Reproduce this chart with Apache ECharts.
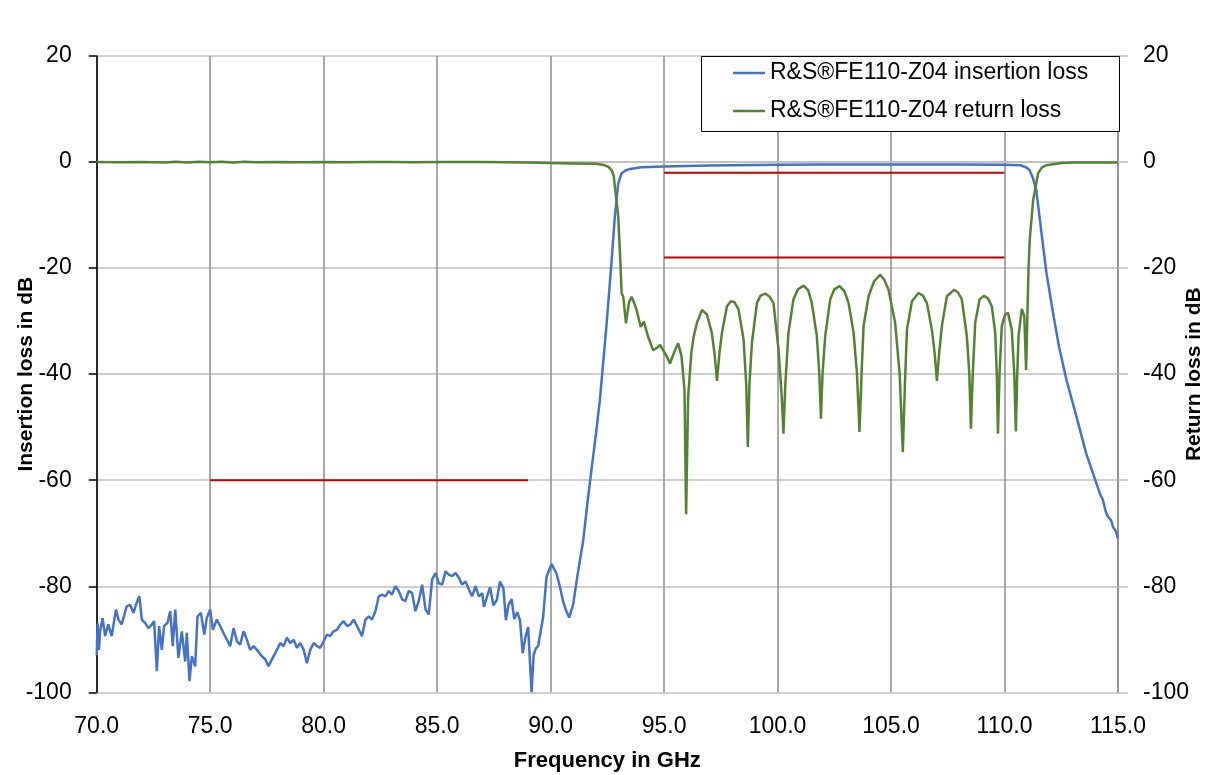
<!DOCTYPE html>
<html>
<head>
<meta charset="utf-8">
<title>R&amp;S FE110-Z04 insertion and return loss</title>
<script src="https://cdn.jsdelivr.net/npm/echarts@6/dist/echarts.min.js"></script>
<style>
  html, body { margin: 0; padding: 0; background: #ffffff; }
  #chart { width: 1209px; height: 775px; }
</style>
</head>
<body>
<div id="chart"></div>
<script>
// Frequency axis ticks (GHz) and level axis ticks (dB)
const freqTicks = [70, 75, 80, 85, 90, 95, 100, 105, 110, 115];
const levelTicks = [-100, -80, -60, -40, -20, 0, 20];

// Series names
const insertionName = 'R&S®FE110-Z04 insertion loss';
const returnName = 'R&S®FE110-Z04 return loss';

// Measured insertion loss: [frequency GHz, dB]
const insertionLoss = [
  [70.00,-93.0],[70.04,-87.0],[70.10,-92.0],[70.15,-88.5],[70.26,-86.0],[70.37,-89.4],[70.51,-87.2],[70.66,-89.4],
  [70.85,-84.4],[70.96,-86.3],[71.10,-87.2],[71.32,-83.8],[71.47,-83.5],[71.62,-85.0],[71.76,-83.1],[71.88,-81.9],
  [71.99,-86.3],[72.13,-86.9],[72.28,-87.9],[72.43,-87.2],[72.53,-86.6],[72.65,-96.0],[72.75,-87.5],[72.87,-92.0],
  [72.97,-87.5],[73.12,-86.9],[73.24,-84.7],[73.35,-91.3],[73.46,-84.4],[73.60,-93.5],[73.75,-88.5],[73.90,-94.2],
  [73.97,-88.8],[74.09,-97.9],[74.19,-93.2],[74.34,-95.1],[74.44,-85.7],[74.59,-85.0],[74.74,-89.1],[74.85,-86.0],
  [75.00,-84.4],[75.12,-88.2],[75.29,-86.3],[75.44,-87.5],[75.62,-89.1],[75.74,-90.1],[75.88,-91.3],[76.03,-87.9],
  [76.18,-90.4],[76.32,-91.0],[76.47,-88.5],[76.62,-90.1],[76.76,-92.0],[76.91,-91.3],[77.06,-92.0],[77.28,-93.2],
  [77.43,-93.8],[77.57,-95.1],[77.72,-93.8],[77.94,-92.0],[78.09,-90.7],[78.24,-91.3],[78.38,-89.7],[78.53,-90.7],
  [78.68,-90.1],[78.82,-91.6],[78.97,-90.7],[79.12,-92.0],[79.26,-94.5],[79.41,-92.0],[79.56,-90.7],[79.71,-91.3],
  [79.85,-91.6],[80.00,-90.4],[80.15,-89.1],[80.29,-89.4],[80.44,-88.5],[80.59,-88.2],[80.74,-87.2],[80.88,-86.6],
  [81.03,-87.5],[81.18,-87.2],[81.32,-86.3],[81.47,-87.5],[81.69,-89.4],[81.84,-86.3],[81.99,-85.7],[82.13,-86.3],
  [82.28,-84.7],[82.43,-81.9],[82.57,-81.6],[82.72,-81.9],[82.87,-80.9],[83.01,-81.6],[83.16,-80.0],[83.31,-80.9],
  [83.46,-82.5],[83.60,-82.8],[83.75,-80.9],[83.90,-81.3],[84.04,-84.7],[84.19,-82.8],[84.34,-79.7],[84.49,-84.4],
  [84.63,-85.3],[84.78,-78.7],[84.93,-77.5],[85.07,-79.4],[85.22,-79.7],[85.37,-77.2],[85.51,-77.8],[85.66,-78.1],
  [85.81,-77.5],[85.96,-78.4],[86.10,-79.7],[86.25,-79.1],[86.40,-80.6],[86.54,-81.9],[86.69,-80.0],[86.84,-81.9],
  [86.99,-81.3],[87.06,-83.9],[87.19,-82.1],[87.33,-80.2],[87.48,-83.6],[87.63,-82.6],[87.77,-79.1],[87.92,-80.4],
  [88.03,-86.4],[88.14,-83.6],[88.28,-82.4],[88.40,-86.2],[88.53,-84.9],[88.65,-86.4],[88.77,-92.6],[88.90,-89.4],
  [89.01,-87.7],[89.16,-100.0],[89.25,-93.0],[89.35,-91.7],[89.45,-91.3],[89.67,-85.8],[89.82,-78.2],[90.04,-75.8],
  [90.26,-77.6],[90.41,-80.1],[90.56,-83.0],[90.68,-84.6],[90.82,-85.9],[91.00,-83.3],[91.15,-78.9],[91.29,-75.1],
  [91.44,-71.3],[91.60,-65.1],[91.80,-58.0],[92.00,-51.2],[92.17,-44.9],[92.47,-30.4],[92.69,-18.5],[92.83,-10.3],
  [92.98,-4.0],[93.13,-2.1],[93.30,-1.6],[93.50,-1.3],[94.00,-1.0],[95.00,-0.85],[96.00,-0.75],[97.00,-0.65],
  [98.00,-0.6],[100.00,-0.5],[102.00,-0.45],[104.00,-0.45],[106.00,-0.45],[108.00,-0.45],[110.00,-0.5],[110.70,-0.6],
  [110.95,-1.0],[111.10,-1.5],[111.25,-3.0],[111.40,-5.3],[111.63,-13.4],[111.85,-21.0],[112.14,-28.5],[112.40,-34.8],
  [112.73,-41.1],[113.17,-48.0],[113.60,-55.0],[114.05,-60.6],[114.20,-62.5],[114.34,-63.8],[114.45,-65.8],[114.56,-66.9],
  [114.70,-67.6],[114.78,-68.8],[114.90,-69.6],[115.00,-71.0]
];

// Measured return loss: [frequency GHz, dB]
const returnLoss = [
  [70.0,0.0],[71.0,-0.05],[72.0,0.0],[73.0,-0.1],[73.5,0.05],[74.0,-0.1],[74.5,0.05],[75.0,-0.05],[75.5,0.05],
  [76.0,-0.1],[76.5,0.05],[77.0,-0.05],[78.0,0.0],[79.0,-0.05],[80.0,0.0],[81.0,-0.05],[82.0,0.0],[83.0,0.0],
  [84.0,-0.05],[85.0,0.0],[86.0,0.0],[87.0,0.0],[88.0,-0.05],[89.0,-0.1],[90.0,-0.2],[91.0,-0.25],[92.0,-0.3],
  [92.3,-0.5],[92.55,-0.9],[92.7,-1.6],[92.78,-2.6],[92.85,-5.3],[92.98,-10.3],[93.05,-16.6],[93.13,-24.8],
  [93.2,-25.4],[93.32,-30.4],[93.45,-26.5],[93.57,-25.4],[93.7,-26.8],[93.79,-27.9],[93.97,-31.1],[94.11,-30.1],
  [94.3,-33.0],[94.52,-35.5],[94.7,-35.0],[94.82,-34.5],[94.96,-35.5],[95.1,-36.5],[95.26,-38.0],[95.48,-35.5],
  [95.62,-34.2],[95.77,-36.7],[95.9,-43.0],[95.97,-66.4],[96.06,-44.3],[96.2,-36.0],[96.3,-33.0],[96.45,-30.3],
  [96.67,-27.9],[96.89,-28.75],[97.1,-32.2],[97.22,-36.0],[97.33,-41.25],[97.44,-36.0],[97.55,-32.2],[97.77,-27.2],
  [97.94,-26.25],[98.1,-26.4],[98.28,-27.8],[98.5,-33.4],[98.62,-42.0],[98.69,-53.75],[98.76,-42.0],[98.87,-34.1],
  [99.09,-26.6],[99.25,-25.2],[99.46,-24.8],[99.65,-25.4],[99.82,-26.6],[100.04,-35.3],[100.18,-44.0],[100.26,-51.25],
  [100.34,-42.0],[100.48,-32.2],[100.7,-25.9],[100.9,-24.0],[101.15,-23.3],[101.35,-24.2],[101.51,-26.6],[101.73,-32.8],
  [101.84,-40.0],[101.91,-48.4],[101.98,-40.0],[102.1,-32.8],[102.32,-25.9],[102.5,-24.0],[102.73,-23.4],[102.95,-24.4],
  [103.13,-26.6],[103.35,-32.2],[103.5,-40.0],[103.61,-50.9],[103.7,-40.0],[103.79,-30.9],[104.01,-25.3],[104.25,-22.5],
  [104.52,-21.25],[104.7,-22.2],[104.89,-24.1],[105.18,-30.3],[105.38,-40.0],[105.52,-54.7],[105.61,-42.0],[105.7,-31.6],
  [105.92,-26.25],[106.21,-24.7],[106.4,-25.2],[106.58,-26.6],[106.8,-31.6],[106.92,-36.0],[107.02,-41.25],[107.12,-36.0],
  [107.24,-30.9],[107.46,-25.3],[107.78,-24.1],[107.95,-24.6],[108.12,-25.9],[108.34,-32.8],[108.45,-40.0],[108.52,-50.3],
  [108.6,-40.0],[108.71,-30.3],[108.9,-25.9],[109.1,-25.2],[109.28,-25.8],[109.44,-27.2],[109.59,-32.2],[109.66,-40.0],
  [109.71,-51.25],[109.78,-40.0],[109.88,-30.9],[110.02,-28.8],[110.15,-28.4],[110.32,-31.6],[110.43,-40.0],[110.5,-50.8],
  [110.56,-40.0],[110.62,-32.8],[110.76,-27.7],[110.87,-29.0],[110.95,-39.2],[111.06,-19.7],[111.11,-14.7],[111.26,-7.2],
  [111.48,-2.1],[111.65,-1.0],[111.85,-0.6],[112.5,-0.2],[113.0,-0.1],[114.0,-0.1],[115.0,-0.1]
];

// Specification limits: [start GHz, end GHz, level dB]
const stopbandLimit = [75, 89, -60];
const passbandInsertionLimit = [95, 110, -2];
const passbandReturnLimit = [95, 110, -18];

const FONT = '"Liberation Sans", Arial, sans-serif';
const BLUE = '#4472c4';
const GREEN = '#548235';
const RED = '#c00000';

function limitSeries(name, limit) {
  return {
    name: name,
    type: 'line',
    data: [[limit[0], limit[2]], [limit[1], limit[2]]],
    showSymbol: false,
    symbol: 'none',
    silent: true,
    lineStyle: { color: RED, width: 2 },
    z: 3
  };
}

const chart = echarts.init(document.getElementById('chart'), null, { renderer: 'canvas' });

const option = {
  animation: false,
  backgroundColor: '#ffffff',
  grid: { left: 96.7, right: 91, top: 56, bottom: 82.7, containLabel: false, outerBoundsMode: 'none' },
  graphic: [{
    type: 'rect',
    left: 701, top: 56,
    shape: { width: 418, height: 75 },
    style: { fill: '#ffffff', stroke: '#000000', lineWidth: 1 },
    z: 8
  }],
  legend: {
    data: [insertionName, returnName],
    orient: 'vertical',
    left: 733, top: 60,
    padding: 0,
    itemGap: 12,
    icon: 'rect',
    itemWidth: 32,
    itemHeight: 2.5,
    selectedMode: false,
    z: 10,
    textStyle: { fontFamily: FONT, fontSize: 23, color: '#000000', lineHeight: 26 }
  },
  xAxis: {
    type: 'value',
    min: freqTicks[0],
    max: freqTicks[freqTicks.length - 1],
    interval: 5,
    name: 'Frequency in GHz',
    nameLocation: 'middle',
    nameGap: 58,
    nameMoveOverlap: false,
    nameTextStyle: { fontFamily: FONT, fontSize: 22, fontWeight: 'bold', color: '#000000' },
    axisLine: { show: true, lineStyle: { color: '#bfbfbf', width: 1.5 } },
    axisTick: { show: false },
    axisLabel: {
      fontFamily: FONT, fontSize: 23, color: '#000000', margin: 23,
      formatter: v => v.toFixed(1)
    },
    splitLine: { show: true, lineStyle: { color: '#8c8c8c', width: 1.5 } }
  },
  yAxis: [{
    type: 'value',
    position: 'left',
    min: levelTicks[0],
    max: levelTicks[levelTicks.length - 1],
    interval: 20,
    name: 'Insertion loss in dB',
    nameLocation: 'middle',
    nameRotate: 90,
    nameGap: 60,
    nameMoveOverlap: false,
    nameTextStyle: { fontFamily: FONT, fontSize: 21, fontWeight: 'bold', color: '#000000' },
    axisLine: { show: true, onZero: false, lineStyle: { color: '#000000', width: 1.5 } },
    axisTick: { show: true, length: 8, lineStyle: { color: '#000000', width: 1.5 } },
    axisLabel: { fontFamily: FONT, fontSize: 23, color: '#000000', margin: 25 },
    splitLine: { show: true, lineStyle: { color: '#bfbfbf', width: 1.5 } }
  }, {
    type: 'value',
    position: 'right',
    min: levelTicks[0],
    max: levelTicks[levelTicks.length - 1],
    interval: 20,
    name: 'Return loss in dB',
    nameLocation: 'middle',
    nameRotate: 90,
    nameGap: 66,
    nameMoveOverlap: false,
    nameTextStyle: { fontFamily: FONT, fontSize: 21, fontWeight: 'bold', color: '#000000' },
    axisLine: { show: true, onZero: false, lineStyle: { color: '#8c8c8c', width: 1.5 } },
    axisTick: { show: true, length: 10, lineStyle: { color: '#bfbfbf', width: 1.5 } },
    axisLabel: { fontFamily: FONT, fontSize: 23, color: '#000000', margin: 25 },
    splitLine: { show: false }
  }],
  series: [{
    name: insertionName,
    type: 'line',
    yAxisIndex: 0,
    data: insertionLoss,
    showSymbol: false,
    symbol: 'none',
    color: BLUE,
    lineStyle: { color: BLUE, width: 2.5 },
    z: 2
  }, {
    name: returnName,
    type: 'line',
    yAxisIndex: 1,
    data: returnLoss,
    showSymbol: false,
    symbol: 'none',
    color: GREEN,
    lineStyle: { color: GREEN, width: 2.5 },
    z: 2
  },
    limitSeries('Stopband limit', stopbandLimit),
    limitSeries('Passband insertion loss limit', passbandInsertionLimit),
    limitSeries('Passband return loss limit', passbandReturnLimit)
  ]
};

chart.setOption(option);
</script>
</body>
</html>
